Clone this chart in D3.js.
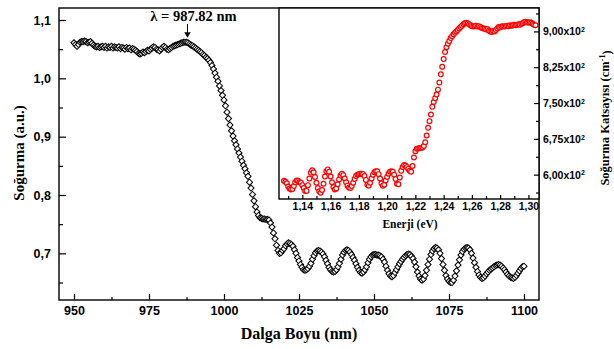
<!DOCTYPE html>
<html>
<head>
<meta charset="utf-8">
<script src="https://cdn.jsdelivr.net/npm/d3@7"></script>
<style>
  body { margin: 0; background: #fff; }
  svg { display: block; }
</style>
</head>
<body>
<div id="chart"></div>
<script>
// main spectrum, 950..1100 nm every 0.5 nm
const wavelengthStart = 950;
const wavelengthStep = 0.5;
const absorbance = [
  1.061, 1.058, 1.055, 1.058, 1.062, 1.063, 1.063, 1.064, 1.063, 1.061,
  1.062, 1.063, 1.060, 1.057, 1.055, 1.054, 1.055, 1.053, 1.054, 1.055,
  1.053, 1.055, 1.052, 1.054, 1.053, 1.055, 1.052, 1.054, 1.053, 1.052,
  1.054, 1.051, 1.053, 1.052, 1.050, 1.053, 1.051, 1.052, 1.049, 1.051,
  1.050, 1.048, 1.046, 1.043, 1.042, 1.043, 1.045, 1.044, 1.046, 1.048,
  1.047, 1.050, 1.052, 1.054, 1.053, 1.050, 1.049, 1.047, 1.050, 1.053,
  1.055, 1.053, 1.050, 1.049, 1.051, 1.053, 1.055, 1.056, 1.057, 1.058,
  1.059, 1.060, 1.061, 1.062, 1.062, 1.062, 1.061, 1.059, 1.057, 1.056,
  1.054, 1.052, 1.050, 1.048, 1.046, 1.044, 1.041, 1.039, 1.036, 1.034,
  1.031, 1.027, 1.022, 1.016, 1.009, 1.002, 0.995, 0.987, 0.979, 0.971,
  0.963, 0.953, 0.942, 0.931, 0.920, 0.910, 0.901, 0.893, 0.886, 0.879,
  0.872, 0.865, 0.858, 0.851, 0.845, 0.838, 0.832, 0.822, 0.812, 0.801,
  0.790, 0.780, 0.771, 0.765, 0.761, 0.760, 0.759, 0.759, 0.758, 0.758,
  0.757, 0.752, 0.745, 0.735, 0.725, 0.714, 0.705, 0.700, 0.701, 0.705,
  0.708, 0.713, 0.716, 0.718, 0.717, 0.715, 0.712, 0.706, 0.700, 0.693,
  0.687, 0.681, 0.676, 0.672, 0.671, 0.672, 0.674, 0.678, 0.683, 0.690,
  0.696, 0.701, 0.704, 0.705, 0.704, 0.702, 0.699, 0.694, 0.688, 0.682,
  0.676, 0.672, 0.669, 0.668, 0.669, 0.672, 0.677, 0.683, 0.690, 0.697,
  0.702, 0.705, 0.706, 0.705, 0.702, 0.698, 0.693, 0.688, 0.682, 0.676,
  0.671, 0.667, 0.666, 0.668, 0.672, 0.677, 0.684, 0.690, 0.694, 0.697,
  0.698, 0.698, 0.697, 0.697, 0.696, 0.694, 0.690, 0.685, 0.678, 0.671,
  0.665, 0.661, 0.660, 0.662, 0.667, 0.672, 0.677, 0.682, 0.686, 0.690,
  0.693, 0.696, 0.698, 0.699, 0.698, 0.695, 0.691, 0.685, 0.677, 0.668,
  0.661, 0.656, 0.654, 0.656, 0.662, 0.671, 0.681, 0.690, 0.698, 0.704,
  0.708, 0.710, 0.709, 0.706, 0.700, 0.691, 0.681, 0.671, 0.662, 0.656,
  0.652, 0.650, 0.650, 0.654, 0.661, 0.670, 0.680, 0.689, 0.697, 0.703,
  0.707, 0.709, 0.710, 0.709, 0.706, 0.700, 0.692, 0.684, 0.676, 0.669,
  0.663, 0.659, 0.657, 0.658, 0.661, 0.665, 0.668, 0.671, 0.673, 0.675,
  0.677, 0.679, 0.680, 0.681, 0.680, 0.678, 0.675, 0.672, 0.668, 0.664,
  0.661, 0.659, 0.658, 0.657, 0.659, 0.662, 0.666, 0.670, 0.674, 0.677,
  0.678
];

// inset: absorption coefficient vs photon energy, 1.127..1.305 eV every 0.001 eV
const energyStart = 1.127;
const energyStep = 0.001;
const absCoeff = [
  587, 585, 582,
  575, 571, 569, 570, 576, 584, 588, 587, 584, 583,
  578, 572, 566, 566, 578, 592, 604, 609, 605, 595,
  583, 572, 565, 562, 568, 581, 596, 607, 611, 606,
  596, 584, 574, 569, 571, 580, 590, 598, 602, 599,
  592, 584, 577, 573, 572, 576, 583, 591, 597, 600,
  601, 602, 602, 601, 597, 589, 579, 577, 583, 592,
  600, 605, 607, 607, 601, 592, 582, 577, 579, 588,
  595, 602, 606, 607, 606, 600, 591, 581, 580, 594,
  608, 616, 620, 619, 616, 612, 608, 606, 618, 636,
  649, 654, 655, 656, 656, 657, 660, 668, 682, 698,
  712, 726, 742, 752, 760, 768, 778, 793, 810, 826,
  842, 857, 867, 874, 880, 886, 890, 894, 897, 900,
  903, 906, 909, 912, 915, 917, 918, 917, 915, 913,
  911, 910, 911, 912, 910, 911, 909, 907, 906, 906,
  904, 905, 902, 900, 899, 901, 900, 903, 906, 909,
  908, 910, 911, 910, 911, 912, 911, 913, 912, 913,
  914, 913, 914, 915, 914, 916, 917, 919, 920, 919,
  918, 919, 918, 916, 914, 913
];

const xTicks = [950, 975, 1000, 1025, 1050, 1075, 1100];
const xMinorTicks = [962.5, 987.5, 1012.5, 1037.5, 1062.5, 1087.5];
const yTicks = [0.7, 0.8, 0.9, 1.0, 1.1];
const yMinorTicks = [0.65, 0.75, 0.85, 0.95, 1.05];
const insetXTicks = [1.14, 1.16, 1.18, 1.20, 1.22, 1.24, 1.26, 1.28, 1.30];
const insetXMinorTicks = [1.13, 1.15, 1.17, 1.19, 1.21, 1.23, 1.25, 1.27, 1.29];
const insetYTicks = [600, 675, 750, 825, 900];
const insetYMinorTicks = [562.5, 637.5, 712.5, 787.5, 862.5, 937.5];
const peakWavelength = 987.82;

const width = 614, height = 349;
const sans = "'Liberation Sans', Arial, sans-serif";
const serif = "'Liberation Serif', 'Times New Roman', serif";
const comma = s => s.replace('.', ',');

const mainData = absorbance.map((v, i) => ({ x: wavelengthStart + i * wavelengthStep, y: v }));
const insetData = absCoeff.map((v, i) => ({ x: energyStart + i * energyStep, y: v }));

const svg = d3.select('#chart').append('svg')
  .attr('width', width)
  .attr('height', height)
  .attr('viewBox', [0, 0, width, height]);

const x = d3.scaleLinear().domain([945, 1105]).range([59, 539]);
const y = d3.scaleLinear().domain([0.62, 1.1206]).range([300, 8]);

// main series (open diamonds)
const diamond = d3.symbol().type(d3.symbolSquare).size(19)();
svg.append('g')
  .selectAll('path')
  .data(mainData)
  .join('path')
    .attr('d', diamond)
    .attr('transform', d => `translate(${x(d.x)},${y(d.y)}) rotate(45)`)
    .attr('fill', '#fff')
    .attr('stroke', '#000')
    .attr('stroke-width', 1);

// main axes
const styleAxis = g => {
  g.select('.domain').remove();
  g.selectAll('line').attr('stroke', '#000').attr('stroke-width', 1.2);
  g.selectAll('text').attr('font-family', sans).attr('font-weight', 'bold').attr('fill', '#000');
};

svg.append('g')
  .attr('transform', 'translate(0,300)')
  .call(d3.axisBottom(x).tickValues(xTicks).tickSizeInner(-6).tickSizeOuter(0).tickPadding(6)
    .tickFormat(d3.format('d')))
  .attr('font-size', 12.5)
  .call(styleAxis);
svg.append('g')
  .attr('transform', 'translate(0,300)')
  .call(d3.axisBottom(x).tickValues(xMinorTicks).tickSizeInner(-3).tickSizeOuter(0).tickFormat(''))
  .call(styleAxis);

svg.append('g')
  .attr('transform', 'translate(59,0)')
  .call(d3.axisLeft(y).tickValues(yTicks).tickSizeInner(-7).tickSizeOuter(0).tickPadding(8)
    .tickFormat(d => comma(d3.format('.1f')(d))))
  .attr('font-size', 12.5)
  .call(styleAxis);
svg.append('g')
  .attr('transform', 'translate(59,0)')
  .call(d3.axisLeft(y).tickValues(yMinorTicks).tickSizeInner(-4).tickSizeOuter(0).tickFormat(''))
  .call(styleAxis);

// frame
svg.append('rect')
  .attr('x', 59).attr('y', 8)
  .attr('width', 480).attr('height', 292)
  .attr('fill', 'none')
  .attr('stroke', '#000')
  .attr('stroke-width', 1.4);

// peak annotation
svg.append('text')
  .attr('x', x(peakWavelength) + 6)
  .attr('y', 21)
  .attr('text-anchor', 'middle')
  .attr('font-family', serif)
  .attr('font-weight', 'bold')
  .attr('font-size', 14.5)
  .text('λ = 987.82 nm');
svg.append('line')
  .attr('x1', x(peakWavelength)).attr('x2', x(peakWavelength))
  .attr('y1', 24).attr('y2', 33)
  .attr('stroke', '#000').attr('stroke-width', 1);
svg.append('path')
  .attr('d', d3.symbol().type(d3.symbolTriangle).size(18)())
  .attr('transform', `translate(${x(peakWavelength)},34) rotate(180)`)
  .attr('fill', '#000');

// axis titles
svg.append('text')
  .attr('x', 299).attr('y', 339)
  .attr('text-anchor', 'middle')
  .attr('font-family', serif)
  .attr('font-weight', 'bold')
  .attr('font-size', 16)
  .text('Dalga Boyu (nm)');

svg.append('text')
  .attr('transform', 'translate(24,153) rotate(-90)')
  .attr('text-anchor', 'middle')
  .attr('font-family', serif)
  .attr('font-weight', 'bold')
  .attr('font-size', 15)
  .text('Soğurma (a.u.)');

// ---- inset ----
const xi = d3.scaleLinear().domain([1.1235, 1.3075]).range([279, 539]);
const yi = d3.scaleLinear().domain([549, 949]).range([199, 8]);

svg.append('rect')
  .attr('x', 279).attr('y', 8)
  .attr('width', 260).attr('height', 191)
  .attr('fill', '#fff')
  .attr('stroke', '#000')
  .attr('stroke-width', 1.4);

svg.append('g')
  .selectAll('circle')
  .data(insetData)
  .join('circle')
    .attr('cx', d => xi(d.x))
    .attr('cy', d => yi(d.y))
    .attr('r', 2.4)
    .attr('fill', '#fff')
    .attr('stroke', '#ff0000')
    .attr('stroke-width', 1.2);

svg.append('g')
  .attr('transform', 'translate(0,199)')
  .call(d3.axisBottom(xi).tickValues(insetXTicks).tickSizeInner(-4).tickSizeOuter(0).tickPadding(4)
    .tickFormat(d => comma(d3.format('.2f')(d))))
  .attr('font-size', 10.5)
  .call(styleAxis);
svg.append('g')
  .attr('transform', 'translate(0,199)')
  .call(d3.axisBottom(xi).tickValues(insetXMinorTicks).tickSizeInner(-3).tickSizeOuter(0).tickFormat(''))
  .call(styleAxis);

const yiAxis = svg.append('g')
  .attr('transform', 'translate(539,0)')
  .call(d3.axisRight(yi).tickValues(insetYTicks).tickSizeInner(-5).tickSizeOuter(0).tickPadding(4)
    .tickFormat(d => comma(d3.format('.2f')(d / 100)) + 'x10'))
  .attr('font-size', 10.5)
  .call(styleAxis);
yiAxis.selectAll('text')
  .append('tspan')
  .attr('dy', '-0.45em')
  .attr('font-size', 7)
  .text('2');
svg.append('g')
  .attr('transform', 'translate(539,0)')
  .call(d3.axisRight(yi).tickValues(insetYMinorTicks).tickSizeInner(-3).tickSizeOuter(0).tickFormat(''))
  .call(styleAxis);

svg.append('text')
  .attr('x', 410).attr('y', 228)
  .attr('text-anchor', 'middle')
  .attr('font-family', serif)
  .attr('font-weight', 'bold')
  .attr('font-size', 11.5)
  .text('Enerji (eV)');

const rightTitle = svg.append('text')
  .attr('transform', 'translate(609,118) rotate(-90)')
  .attr('text-anchor', 'middle')
  .attr('font-family', serif)
  .attr('font-weight', 'bold')
  .attr('font-size', 12.5);
rightTitle.append('tspan').text('Soğurma Katsayısı (cm');
rightTitle.append('tspan').attr('dy', '-0.45em').attr('font-size', 8).text('-1');
rightTitle.append('tspan').attr('dy', '0.45em').text(')');
</script>
</body>
</html>
